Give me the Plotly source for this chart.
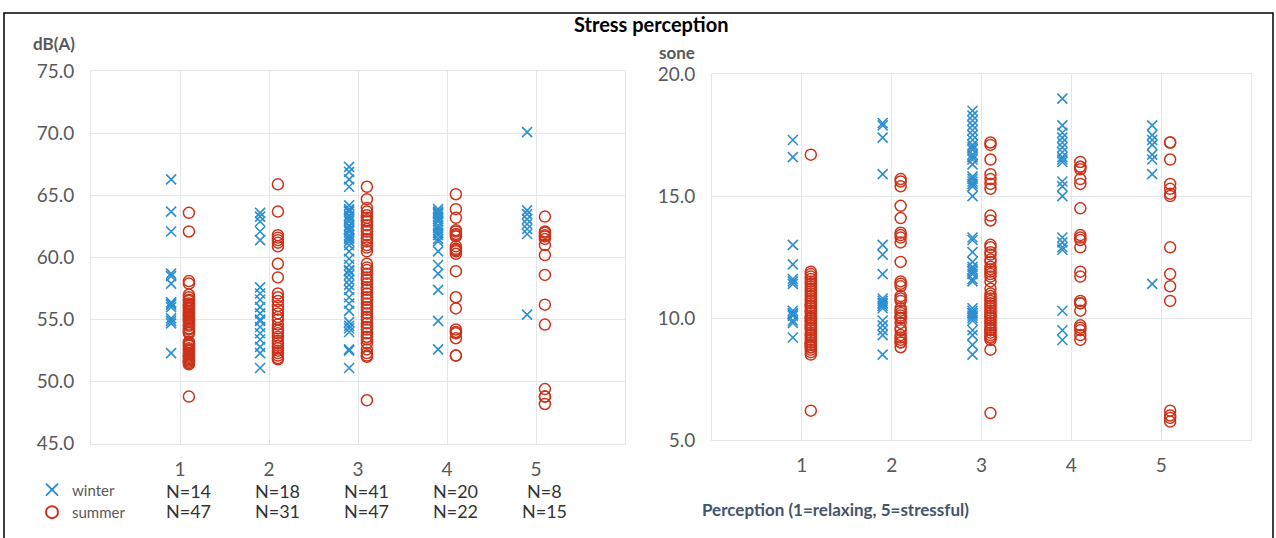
import plotly.graph_objects as go

categories = [1, 2, 3, 4, 5]
n_winter = [14, 18, 41, 20, 8]
n_summer = [47, 31, 47, 22, 15]

# Left panel: dB(A)
dba_winter = [
    [66.3, 63.7, 62.1, 58.7, 58.5, 57.9, 56.4, 56.3, 56.2, 56.0, 55.1, 54.9, 54.7, 52.3],
    [63.6, 63.3, 62.9, 62.1, 61.4, 57.6, 57.1, 56.6, 56.0, 55.5, 55.0, 54.9, 54.4, 53.9, 53.4, 52.8, 52.3, 51.1],
    [67.3, 66.9, 66.3, 65.7, 64.2, 63.9, 63.8, 63.7, 63.4, 63.3, 63.1, 62.9, 62.6, 62.5, 62.3, 62.2,
     62.1, 61.8, 61.6, 61.5, 61.3, 61.0, 60.5, 59.9, 59.4, 59.0, 58.9, 58.6, 58.2, 57.8, 57.4, 56.8,
     56.3, 55.7, 54.8, 54.5, 54.3, 54.0, 52.6, 52.5, 51.1],
    [63.9, 63.7, 63.6, 63.5, 63.3, 63.1, 62.9, 62.6, 62.4, 62.2, 62.0, 61.8, 61.5, 61.3, 60.5, 59.4,
     58.7, 57.4, 54.9, 52.6],
    [70.1, 63.8, 63.5, 63.1, 62.7, 62.3, 61.9, 55.4],
]
dba_summer = [
    [63.6, 62.1, 58.1, 57.9, 57.0, 56.8, 56.6, 56.5, 56.3, 56.2, 56.1, 56.0, 55.9, 55.7, 55.6, 55.5,
     55.4, 55.3, 55.2, 55.1, 55.0, 54.9, 54.8, 54.6, 54.5, 54.3, 54.2, 54.0, 53.9, 53.2, 53.1, 53.0,
     52.9, 52.7, 52.6, 52.5, 52.3, 52.2, 52.1, 52.0, 51.9, 51.8, 51.7, 51.6, 51.5, 51.4, 48.8],
    [65.9, 63.7, 61.8, 61.6, 61.4, 61.2, 60.9, 59.5, 58.4, 57.1, 56.8, 56.5, 56.1, 55.8, 55.5, 55.2,
     55.0, 54.6, 54.3, 54.1, 53.9, 53.6, 53.3, 53.1, 52.9, 52.7, 52.5, 52.3, 52.1, 51.9, 51.8],
    [65.7, 64.7, 64.0, 63.7, 63.4, 63.2, 63.0, 62.9, 62.6, 62.3, 62.1, 61.8, 61.5, 61.3, 61.0, 60.8,
     60.5, 59.5, 59.2, 59.0, 58.7, 58.4, 58.2, 57.9, 57.6, 57.4, 57.1, 56.8, 56.6, 56.3, 56.0, 55.8,
     55.5, 55.2, 55.0, 54.7, 54.4, 54.2, 53.9, 53.6, 53.4, 53.1, 52.6, 52.3, 52.1, 52.0, 48.5],
    [65.1, 63.9, 63.2, 62.2, 62.1, 61.9, 61.8, 61.7, 60.9, 60.7, 60.6, 60.5, 60.3, 58.9, 56.8, 55.9,
     54.2, 54.0, 53.9, 53.5, 52.1, 52.1],
    [63.3, 62.1, 62.0, 61.8, 61.7, 61.5, 61.0, 60.2, 58.6, 56.2, 54.6, 49.4, 48.8, 48.8, 48.2],
]

# Right panel: sone
sone_winter = [
    [17.3, 16.6, 13.0, 12.2, 11.6, 11.5, 11.4, 10.3, 10.2, 10.15, 10.1, 9.9, 9.8, 9.2],
    [18.0, 17.9, 17.4, 15.9, 13.0, 12.6, 11.8, 10.8, 10.7, 10.6, 10.6, 10.5, 10.4, 9.9, 9.7, 9.5, 9.3, 8.5],
    [18.5, 18.3, 18.1, 17.9, 17.7, 17.5, 17.3, 17.1, 17.0, 16.9, 16.7, 16.6, 16.5, 16.3, 15.8, 15.7,
     15.6, 15.5, 15.4, 15.0, 13.3, 13.2, 12.7, 12.3, 12.1, 12.0, 11.9, 11.8, 11.6, 11.5, 10.4, 10.3,
     10.2, 10.2, 10.1, 10.0, 9.9, 9.5, 9.3, 8.9, 8.5],
    [19.0, 17.9, 17.6, 17.4, 17.2, 17.0, 16.8, 16.6, 16.5, 16.4, 15.6, 15.4, 15.0, 13.3, 13.1, 12.9,
     12.8, 10.3, 9.5, 9.1],
    [17.9, 17.5, 17.3, 17.1, 16.7, 16.5, 15.9, 11.4],
]
sone_summer = [
    [16.7, 11.9, 11.8, 11.7, 11.6, 11.5, 11.4, 11.3, 11.2, 11.1, 11.0, 10.9, 10.8, 10.7, 10.6, 10.5,
     10.5, 10.4, 10.3, 10.3, 10.2, 10.1, 10.0, 10.0, 9.9, 9.9, 9.8, 9.7, 9.7, 9.6, 9.6, 9.5, 9.4,
     9.3, 9.3, 9.2, 9.1, 9.0, 9.0, 8.9, 8.9, 8.8, 8.8, 8.7, 8.6, 8.5, 6.2],
    [15.7, 15.6, 15.4, 14.6, 14.1, 13.5, 13.4, 13.3, 13.1, 12.3, 11.5, 11.4, 11.3, 10.9, 10.8, 10.7,
     10.4, 10.3, 10.2, 10.1, 10.0, 10.0, 9.8, 9.6, 9.5, 9.3, 9.2, 9.1, 9.0, 9.0, 8.8],
    [17.2, 17.1, 16.5, 15.9, 15.7, 15.5, 15.3, 14.2, 14.0, 13.0, 12.9, 12.7, 12.6, 12.4, 12.3, 12.1,
     12.0, 11.9, 11.8, 11.7, 11.5, 11.2, 11.0, 10.9, 10.8, 10.7, 10.6, 10.5, 10.4, 10.3, 10.2, 10.1,
     10.1, 10.0, 9.9, 9.8, 9.7, 9.6, 9.5, 9.5, 9.4, 9.3, 9.2, 9.2, 9.1, 8.7, 6.1],
    [16.4, 16.2, 16.2, 16.1, 15.7, 15.5, 14.5, 13.4, 13.3, 13.2, 12.9, 11.9, 11.7, 10.7, 10.6, 10.6,
     10.3, 9.7, 9.6, 9.5, 9.3, 9.1],
    [17.2, 17.2, 16.5, 15.5, 15.3, 15.1, 15.0, 12.9, 11.8, 11.3, 10.7, 6.2, 6.0, 5.9, 5.75],
]

season_offset = {"winter": -0.1, "summer": 0.1}
colors = {"winter": "#2b8fd0", "summer": "#cc3219"}
symbols = {"winter": "x-thin-open", "summer": "circle-open"}

W, H = 1276, 538
def px(x):
    return x / W
def py(y):
    return (H - y) / H

fig = go.Figure()

def add_series(groups, season, xa, ya, showlegend):
    xs, ys = [], []
    for cat, vals in zip(categories, groups):
        xs.extend([cat + season_offset[season]] * len(vals))
        ys.extend(vals)
    fig.add_trace(go.Scatter(
        x=xs, y=ys, mode="markers", name=season, xaxis=xa, yaxis=ya,
        showlegend=showlegend,
        marker=dict(symbol=symbols[season],
                    size=10 if season == "winter" else 11,
                    color=colors[season],
                    line=dict(color=colors[season], width=1.6 if season == "winter" else 1.5)),
    ))

add_series(dba_winter, "winter", "x", "y", True)
add_series(dba_summer, "summer", "x", "y", True)
add_series(sone_winter, "winter", "x2", "y2", False)
add_series(sone_summer, "summer", "x2", "y2", False)

grid = "#e3e6ea"
tickfont = dict(family="Lato", size=19, color="#595959")
xcommon = dict(range=[0, 6], tickvals=[0, 1, 2, 3, 4, 5, 6],
               ticktext=["", "1", "2", "3", "4", "5", ""],
               showgrid=True, gridcolor=grid, gridwidth=1, zeroline=False,
               showline=True, linecolor=grid, mirror=True, ticks="",
               tickfont=tickfont, ticklabelstandoff=8, fixedrange=True)
ycommon = dict(dtick=5, tickformat=".1f", showgrid=True, gridcolor=grid, gridwidth=1,
               zeroline=False, showline=True, linecolor=grid, mirror=True, ticks="",
               tickfont=tickfont, ticklabelstandoff=12, fixedrange=True)

fig.update_layout(
    width=W, height=H,
    margin=dict(l=0, r=0, t=0, b=0),
    paper_bgcolor="white", plot_bgcolor="white",
    font=dict(family="Lato", color="#595959"),
    xaxis=dict(domain=[px(91), px(625)], anchor="y", **xcommon),
    yaxis=dict(domain=[py(451), py(62)], anchor="x", range=[45, 75], **ycommon),
    xaxis2=dict(domain=[px(712), px(1251)], anchor="y2", **xcommon),
    yaxis2=dict(domain=[py(447), py(65)], anchor="x2", range=[5, 20], **ycommon),
    legend=dict(x=px(32), y=py(482), xanchor="left", yanchor="top",
                bgcolor="rgba(0,0,0,0)", font=dict(family="Lato", size=15, color="#595959"),
                tracegroupgap=0, itemsizing="constant"),
    showlegend=True,
)

def label(text, x, y, size, color, xanchor="center", xref="paper"):
    return dict(text=text, x=x, y=py(y), xref=xref, yref="paper", xanchor=xanchor,
                yanchor="middle", showarrow=False,
                font=dict(family="Lato", size=size, color=color))

annotations = [
    label("<b>Stress perception</b>", px(651), 13, 20, "#000000"),
    label("<b>dB(A)</b>", px(54), 33, 17, "#595959"),
    label("<b>sone</b>", px(677), 42, 17, "#595959"),
    label("<b>Perception (1=relaxing, 5=stressful)</b>", px(700), 520, 17, "#44546a", xanchor="left"),
]
for cat, nw, ns in zip(categories, n_winter, n_summer):
    annotations.append(label(f"N={nw}", cat + 0.1, 500, 18, "#333333", xref="x"))
    annotations.append(label(f"N={ns}", cat + 0.1, 521, 18, "#333333", xref="x"))
fig.update_layout(annotations=annotations)

fig.add_shape(type="rect", xref="paper", yref="paper",
              x0=px(4), x1=px(1273), y0=-0.2, y1=py(1),
              line=dict(color="#000000", width=1.5), fillcolor="rgba(0,0,0,0)", layer="below")

fig.write_html("out.html", config={"displayModeBar": False},
               post_script="document.body.style.margin='0px';")
